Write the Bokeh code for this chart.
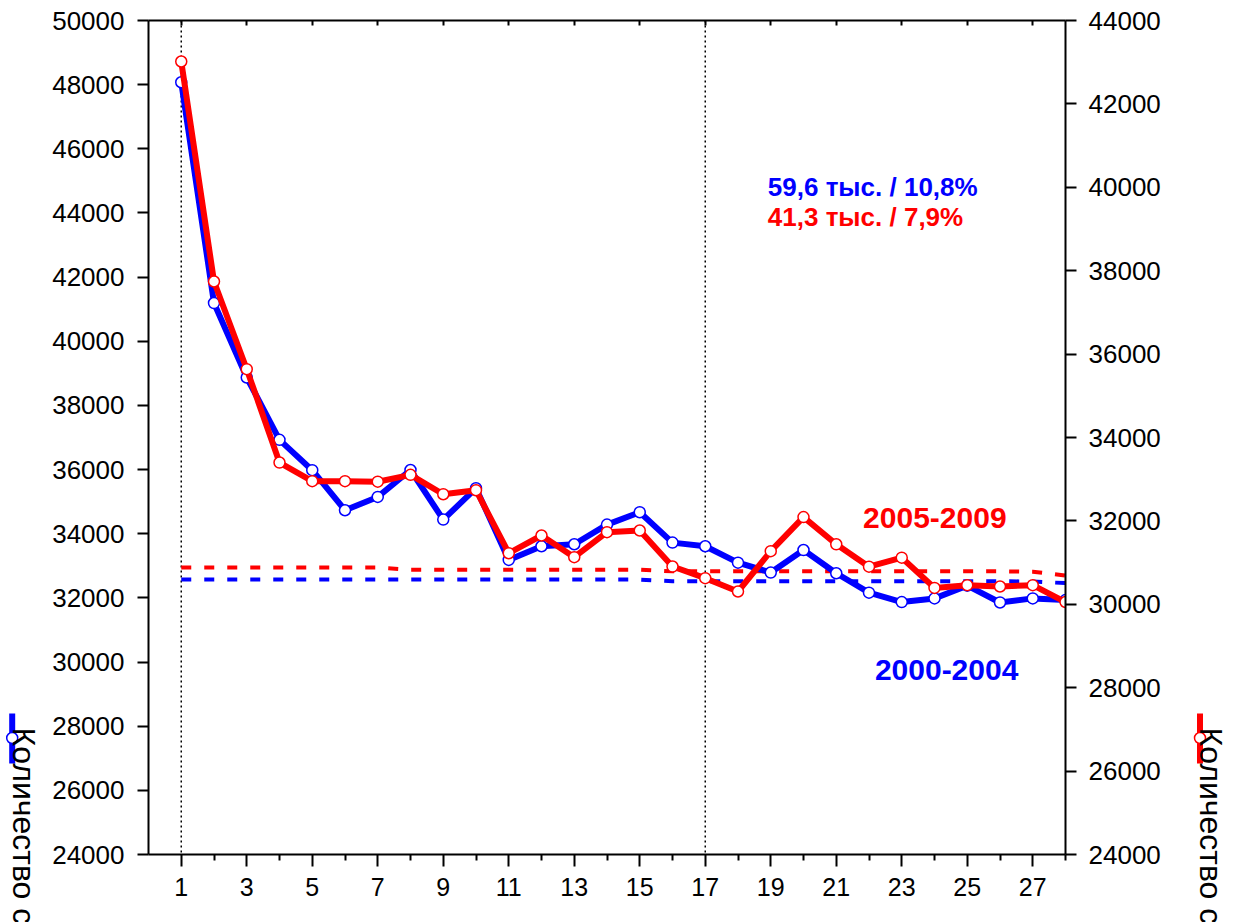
import math
from bokeh.plotting import figure
from bokeh.layouts import row
from bokeh.models import (Range1d, LinearAxis, FixedTicker, Span, Label,
                          ColumnDataSource)
from bokeh.embed import file_html
from bokeh.resources import INLINE

# ---------------- data ----------------
weeks = [1, 2, 3, 4, 5, 6, 7, 8, 9, 10, 11, 12, 13, 14,
         15, 16, 17, 18, 19, 20, 21, 22, 23, 24, 25, 26, 27, 28]

series_2000_2004 = [48075, 41192, 38871, 36927, 35981, 34732, 35148, 35986, 34440, 35420,
                    33183, 33610, 33672, 34285, 34671, 33723, 33610, 33099, 32790, 33492,
                    32768, 32162, 31869, 31984, 32380, 31857, 31984, 31931]

series_2005_2009 = [43017, 37741, 35638, 33400, 32952, 32952, 32940, 33105, 32640, 32736,
                    31225, 31650, 31130, 31729, 31770, 30906, 30626, 30307, 31274, 32091,
                    31439, 30902, 31118, 30393, 30458, 30427, 30458, 30055]

level_2000_2004 = [32570, 32570, 32570, 32570, 32570, 32570, 32570, 32570, 32570, 32570,
                   32570, 32570, 32570, 32570, 32570, 32520, 32520, 32520, 32520, 32520,
                   32520, 32520, 32520, 32520, 32520, 32520, 32510, 32460]

level_2005_2009 = [30880, 30880, 30880, 30880, 30880, 30880, 30880, 30830, 30830, 30830,
                   30830, 30830, 30830, 30830, 30830, 30790, 30790, 30790, 30790, 30790,
                   30790, 30790, 30790, 30790, 30790, 30790, 30780, 30690]

marker_weeks = [1, 17]

x_ticks = [1, 3, 5, 7, 9, 11, 13, 15, 17, 19, 21, 23, 25, 27]
x_minor = [2, 4, 6, 8, 10, 12, 14, 16, 18, 20, 22, 24, 26, 28]
left_ticks = [24000, 26000, 28000, 30000, 32000, 34000, 36000, 38000, 40000,
              42000, 44000, 46000, 48000, 50000]
right_ticks = [24000, 26000, 28000, 30000, 32000, 34000, 36000, 38000, 40000,
               42000, 44000]

label_blue = "2000-2004"
label_red = "2005-2009"
note_blue = "59,6 тыс. / 10,8%"
note_red = "41,3 тыс. / 7,9%"
axis_title = "Количество случаев"

BLUE = "#0000ff"
RED = "#ff0000"
FONT = "Liberation Sans"

TOTAL_H = 922
TOP = 20

src = ColumnDataSource(dict(x=weeks, b=series_2000_2004, r=series_2005_2009,
                            bl=level_2000_2004, rl=level_2005_2009))

p = figure(title=None, frame_width=917, frame_height=834,
           x_range=Range1d(0, 28), y_range=Range1d(24000, 50000),
           output_backend="svg", toolbar_location=None,
           min_border_left=100, min_border_right=105,
           min_border_top=TOP, min_border_bottom=TOTAL_H - TOP - 834,
           background_fill_color="white", border_fill_color="white")
p.outline_line_color = None
p.xgrid.visible = False
p.ygrid.visible = False
p.extra_y_ranges = {"right": Range1d(24000, 44000)}

# ---- axes ----
xa = p.xaxis[0]
xa.ticker = FixedTicker(ticks=x_ticks, minor_ticks=x_minor)
xa.major_tick_out = 12
xa.major_tick_in = 0
xa.minor_tick_out = 6
xa.minor_tick_in = 0
xa.major_label_standoff = 11

ya = p.yaxis[0]
ya.ticker = FixedTicker(ticks=left_ticks, minor_ticks=[])
ya.major_tick_out = 11
ya.major_tick_in = 0
ya.minor_tick_line_color = None
ya.major_label_standoff = 13

ra = LinearAxis(y_range_name="right",
                ticker=FixedTicker(ticks=right_ticks, minor_ticks=[]))
ra.major_tick_out = 11
ra.major_tick_in = 0
ra.minor_tick_line_color = None
ra.major_label_standoff = 12
p.add_layout(ra, "right")

ta = LinearAxis(ticker=FixedTicker(ticks=x_ticks, minor_ticks=[]))
ta.major_tick_out = 0
ta.major_tick_in = 5
ta.minor_tick_line_color = None
ta.major_label_text_font_size = "1px"
ta.major_label_text_color = None
ta.major_label_standoff = 0
p.add_layout(ta, "above")

for ax in [xa, ya, ra, ta]:
    ax.axis_line_width = 2
    ax.axis_line_color = "black"
    ax.major_tick_line_width = 2
    ax.minor_tick_line_width = 2
    ax.major_tick_line_color = "black"
    ax.major_label_text_font = FONT
for ax in [xa, ya, ra]:
    ax.major_label_text_color = "black"
for ax in [ya, ra]:
    ax.major_label_text_font_size = "26px"
xa.major_label_text_font_size = "25px"

# ---- vertical dotted markers ----
for w in marker_weeks:
    p.add_layout(Span(location=w, dimension="height", line_color="black",
                      line_width=1.5, line_dash="2 3", level="underlay"))

# ---- average levels (dashed) ----
p.line("x", "bl", source=src, line_color=BLUE, line_width=4, line_dash="10 13")
p.line("x", "rl", source=src, line_color=RED, line_width=4, line_dash="10 13",
       y_range_name="right")

# ---- main series ----
p.line("x", "b", source=src, line_color=BLUE, line_width=6, line_join="round")
p.scatter("x", "b", source=src, size=11, marker="circle", fill_color="white",
          line_color=BLUE, line_width=1.5)
p.line("x", "r", source=src, line_color=RED, line_width=6, line_join="round",
       y_range_name="right")
p.scatter("x", "r", source=src, size=11, marker="circle", fill_color="white",
          line_color=RED, line_width=1.5, y_range_name="right")

# ---- annotations ----
p.add_layout(Label(x=18.91, y=44820, text=note_blue, text_color=BLUE,
                   text_font=FONT, text_font_style="bold", text_font_size="26px",
                   text_baseline="alphabetic", text_align="left"))
p.add_layout(Label(x=18.91, y=43885, text=note_red, text_color=RED,
                   text_font=FONT, text_font_style="bold", text_font_size="26px",
                   text_baseline="alphabetic", text_align="left"))
p.add_layout(Label(x=21.82, y=34493, text=label_red, text_color=RED,
                   text_font=FONT, text_font_style="bold", text_font_size="30px",
                   text_baseline="alphabetic", text_align="left"))
p.add_layout(Label(x=22.18, y=29750, text=label_blue, text_color=BLUE,
                   text_font=FONT, text_font_style="bold", text_font_size="30px",
                   text_baseline="alphabetic", text_align="left"))


# ---- side strips: rotated axis titles with legend swatches (page pixel coordinates) ----
def side_strip(width, line_x, text_x, color):
    s = figure(title=None, frame_width=width, frame_height=TOTAL_H - TOP,
               x_range=Range1d(0, width), y_range=Range1d(TOTAL_H, TOP),
               output_backend="svg", toolbar_location=None,
               x_axis_type=None, y_axis_type=None,
               min_border=0, min_border_left=0, min_border_right=0,
               min_border_top=TOP, min_border_bottom=0,
               background_fill_color="white", border_fill_color="white")
    s.outline_line_color = None
    s.xgrid.visible = False
    s.ygrid.visible = False
    s.segment(x0=[line_x], y0=[713], x1=[line_x], y1=[763],
              line_color=color, line_width=6)
    s.scatter(x=[line_x], y=[737.5], size=11, marker="circle",
              fill_color="white", line_color=color, line_width=1.5)
    s.add_layout(Label(x=text_x, y=727, text=axis_title, angle=-math.pi / 2,
                       text_color="black", text_font=FONT, text_font_size="32px",
                       text_baseline="alphabetic", text_align="left"))
    return s


left_strip = side_strip(48, 11.7, 23, BLUE)
right_strip = side_strip(66, 29.5, 40, RED)

layout = row(left_strip, p, right_strip, spacing=0)
open("out.html", "w").write(file_html(layout, INLINE))
